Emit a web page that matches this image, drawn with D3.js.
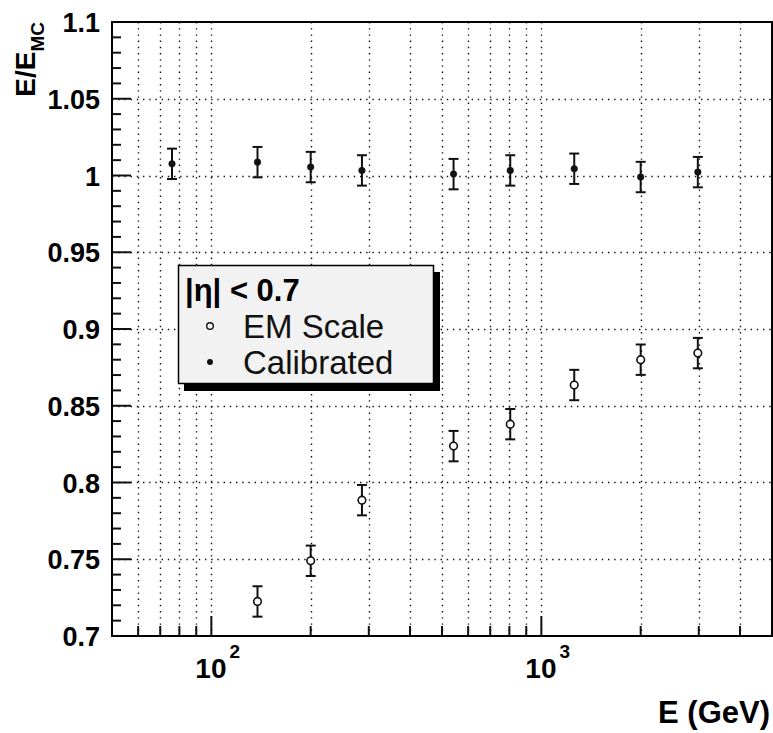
<!DOCTYPE html>
<html>
<head>
<meta charset="utf-8">
<script src="https://cdn.jsdelivr.net/npm/d3@7"></script>
<style>
  body { margin: 0; background: #fff; }
  svg { display: block; }
  text { font-family: "Liberation Sans", Arial, Helvetica, sans-serif; }
</style>
</head>
<body>
<svg id="chart" width="773" height="733"></svg>
<script>
// ---- data ----
const energies = [76, 138, 200, 286, 542, 805, 1258, 2000, 2980];
const calibrated = [1.0076, 1.0087, 1.0055, 1.0033, 1.0009, 1.0033, 1.0044, 0.9990, 1.0022];
const calibratedErr = [0.0099, 0.0099, 0.0099, 0.0099, 0.0099, 0.0099, 0.0099, 0.0099, 0.0099];
const emEnergies = [138, 200, 286, 542, 805, 1258, 2000, 2980];
const emScale = [0.7225, 0.7490, 0.7885, 0.8237, 0.8380, 0.8635, 0.8800, 0.8843];
const emScaleErr = [0.0099, 0.0099, 0.0099, 0.0099, 0.0099, 0.0099, 0.0099, 0.0099];
const yMajorTicks = [0.7, 0.75, 0.8, 0.85, 0.9, 0.95, 1, 1.05, 1.1];
const yTickLabels = ["0.7", "0.75", "0.8", "0.85", "0.9", "0.95", "1", "1.05", "1.1"];
const xDecades = [100, 1000];
const xDecadeExp = ["2", "3"];
const legendTitle = "|\u03B7| < 0.7";
const seriesNames = ["EM Scale", "Calibrated"];

const svg = d3.select("#chart");
const L = 112, R = 772, T = 22, B = 636;

const x = d3.scaleLog().domain([50, 5000]).range([L, R]);
const y = d3.scaleLinear().domain([0.7, 1.1]).range([B, T]);

// log ticks 60..4000
const xTicksAll = [];
for (let d = 10; d <= 1000; d *= 10) {
  for (let m = 1; m <= 9; m++) {
    const v = m * d;
    if (v > 50 && v < 5000) xTicksAll.push(v);
  }
}
const yMinor = d3.range(0, 41).map(i => i);

// grid
const grid = svg.append("g").attr("stroke", "#111").attr("stroke-width", 1.4)
  .attr("stroke-dasharray", "1.4 4.8").attr("fill", "none");
grid.selectAll("line.v").data(xTicksAll).join("line").attr("class", "v")
  .attr("x1", d => Math.round(x(d)) + 0.5).attr("x2", d => Math.round(x(d)) + 0.5)
  .attr("y1", T).attr("y2", B);
grid.selectAll("line.h").data(yMajorTicks.slice(1, -1)).join("line").attr("class", "h")
  .attr("y1", d => Math.round(y(d)) + 0.5).attr("y2", d => Math.round(y(d)) + 0.5)
  .attr("x1", L).attr("x2", R);

// ticks
const ticks = svg.append("g").attr("stroke", "#111").attr("stroke-width", 2);
ticks.selectAll("line.ym").data(yMinor).join("line")
  .attr("x1", L).attr("x2", i => (i % 5 === 0) ? L + 19 : L + 9)
  .attr("y1", i => y(0.7 + i * 0.01)).attr("y2", i => y(0.7 + i * 0.01));
ticks.selectAll("line.xm").data(xTicksAll).join("line")
  .attr("x1", d => x(d)).attr("x2", d => x(d))
  .attr("y1", B).attr("y2", d => xDecades.includes(d) ? B - 20 : B - 10);

// frame
svg.append("rect").attr("x", L).attr("y", T).attr("width", R - L).attr("height", B - T)
  .attr("fill", "none").attr("stroke", "#000").attr("stroke-width", 2);

// y tick labels
svg.append("g").selectAll("text").data(yMajorTicks).join("text")
  .attr("x", 100).attr("y", d => y(d) + 10)
  .attr("text-anchor", "end").attr("font-size", 27).attr("font-weight", "bold")
  .attr("fill", "#000")
  .text((d, i) => yTickLabels[i]);

// x tick labels
const xl = svg.append("g").selectAll("text").data(xDecades).join("text")
  .attr("x", d => x(d) - 16).attr("y", 678)
  .attr("font-weight", "bold").attr("fill", "#000");
xl.append("tspan").attr("font-size", 28).text("10");
xl.append("tspan").attr("font-size", 19).attr("dy", -20).attr("dx", 3).text((d, i) => xDecadeExp[i]);

// axis titles
svg.append("text").attr("x", 770).attr("y", 723).attr("text-anchor", "end")
  .attr("font-size", 31).attr("font-weight", "bold").text("E (GeV)");
const yt = svg.append("text").attr("transform", "translate(35,22) rotate(-90)")
  .attr("text-anchor", "end").attr("font-weight", "bold");
yt.append("tspan").attr("font-size", 28).text("E/E");
yt.append("tspan").attr("font-size", 19).attr("dy", 9).text("MC");

// data: error bars + markers
function drawSeries(xs, vals, errs, open) {
  const g = svg.append("g");
  const pts = xs.map((e, i) => ({ e, v: vals[i], s: errs[i] }));
  g.selectAll("line.eb").data(pts).join("line")
    .attr("x1", d => x(d.e)).attr("x2", d => x(d.e))
    .attr("y1", d => y(d.v - d.s)).attr("y2", d => y(d.v + d.s))
    .attr("stroke", "#111").attr("stroke-width", 2);
  g.selectAll("line.c1").data(pts).join("line")
    .attr("x1", d => x(d.e) - 5).attr("x2", d => x(d.e) + 5)
    .attr("y1", d => y(d.v + d.s)).attr("y2", d => y(d.v + d.s))
    .attr("stroke", "#111").attr("stroke-width", 2);
  g.selectAll("line.c2").data(pts).join("line")
    .attr("x1", d => x(d.e) - 5).attr("x2", d => x(d.e) + 5)
    .attr("y1", d => y(d.v - d.s)).attr("y2", d => y(d.v - d.s))
    .attr("stroke", "#111").attr("stroke-width", 2);
  g.selectAll("circle").data(pts).join("circle")
    .attr("cx", d => x(d.e)).attr("cy", d => y(d.v))
    .attr("r", open ? 3.8 : 3.3)
    .attr("fill", open ? "#fff" : "#111")
    .attr("stroke", "#111").attr("stroke-width", open ? 1.6 : 0.5);
}
drawSeries(emEnergies, emScale, emScaleErr, true);
drawSeries(energies, calibrated, calibratedErr, false);

// legend
const lg = svg.append("g");
lg.append("rect").attr("x", 184).attr("y", 272).attr("width", 256).attr("height", 119).attr("fill", "#000");
lg.append("rect").attr("x", 178.5).attr("y", 265.5).attr("width", 255).attr("height", 118)
  .attr("fill", "#f2f2f2").attr("stroke", "#000").attr("stroke-width", 1.5);
lg.append("text").attr("x", 185).attr("y", 301).attr("font-size", 31).attr("font-weight", "bold")
  .text(legendTitle);
lg.append("circle").attr("cx", 210).attr("cy", 326).attr("r", 3.3).attr("fill", "#fff")
  .attr("stroke", "#111").attr("stroke-width", 1.4);
lg.append("circle").attr("cx", 210).attr("cy", 362).attr("r", 3).attr("fill", "#111");
lg.selectAll("text.s").data(seriesNames).join("text").attr("class", "s")
  .attr("x", 243).attr("y", (d, i) => 338 + i * 36)
  .attr("font-size", 33).attr("fill", "#111").text(d => d);
</script>
</body>
</html>
